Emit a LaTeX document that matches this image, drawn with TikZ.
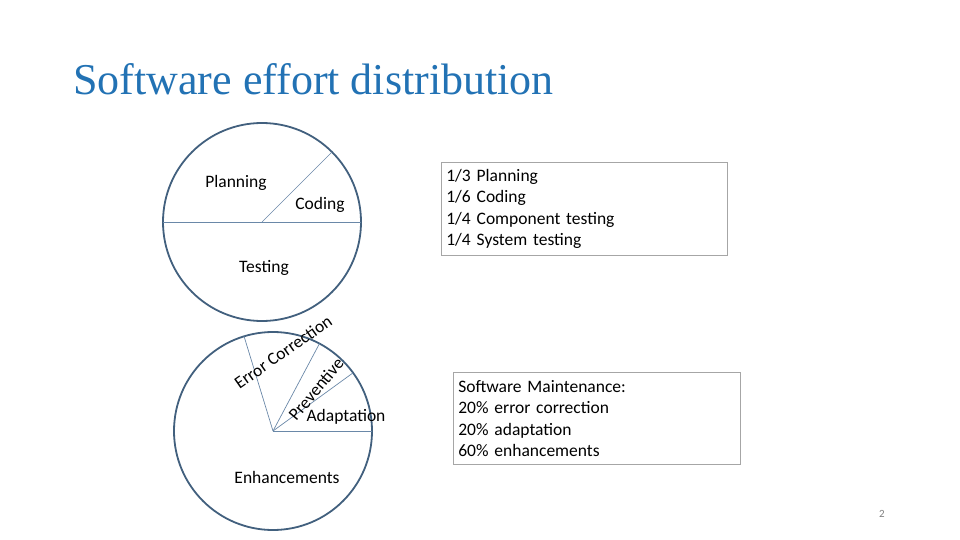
\documentclass[tikz,border=0pt]{standalone}
\usepackage{fontspec}
\setmainfont{Carlito}
\newfontfamily\titlefont{Liberation Serif}
\usetikzlibrary{calc}
\definecolor{titleblue}{HTML}{2272B4}
\definecolor{rim}{HTML}{42607E}
\definecolor{spoke}{HTML}{6A88A8}
\begin{document}
\begin{tikzpicture}[x=1pt,y=-1pt,
    pie/.style={draw=rim,line width=1.8pt},
    cut/.style={draw=spoke,line width=0.7pt},
    lbl/.style={font=\fontsize{17.5}{20}\selectfont},
    infobox/.style={draw=gray!70,line width=0.7pt,align=left,inner sep=5pt,
      font=\fontsize{17.5}{21.5}\selectfont}]
  \useasboundingbox (0,0) rectangle (960,540);
  \node[anchor=base west,font=\titlefont\fontsize{44}{48}\selectfont,text=titleblue,inner sep=0]
    (title) at (73,95) {Software effort distribution};
  % development pie
  \coordinate (dev) at (262,222);
  \draw[pie] (dev) circle[radius=99];
  \draw[cut] ($(dev)+(-99,0)$) -- ($(dev)+(99,0)$);
  \draw[cut] (dev) -- ++(-45:99);
  \node[lbl] (plan) at (236,183) {Planning};
  \node[lbl] (code) at (320,205) {Coding};
  \node[lbl] (test) at (264,268) {Testing};
  % maintenance pie
  \coordinate (mnt) at (273,431);
  \draw[pie] (mnt) circle[radius=99];
  \foreach \a in {0,36,62,107}
    \draw[cut] (mnt) -- ++(-\a:99);
  \node[lbl,rotate=35,inner sep=0] (err) at (283,352) {Error Correction};
  \node[lbl,rotate=50,inner sep=0] (prev) at (316,389) {Preventive};
  \node[lbl] (adap) at (346,417) {Adaptation};
  \node[lbl] (enh) at (287,477) {Enhancements};
  % summaries
  \node[infobox,text width=276,minimum height=93,anchor=north west]
    (devsum) at (441,162) {1/3 Planning\\1/6 Coding\\1/4 Component testing\\1/4 System testing};
  \node[infobox,text width=277,minimum height=92,anchor=north west]
    (mntsum) at (453,372) {Software Maintenance:\\20\% error correction\\20\% adaptation\\60\% enhancements};
  \node[font=\fontsize{11}{12}\selectfont,text=gray] (page) at (882,514) {2};
\end{tikzpicture}
\end{document}
